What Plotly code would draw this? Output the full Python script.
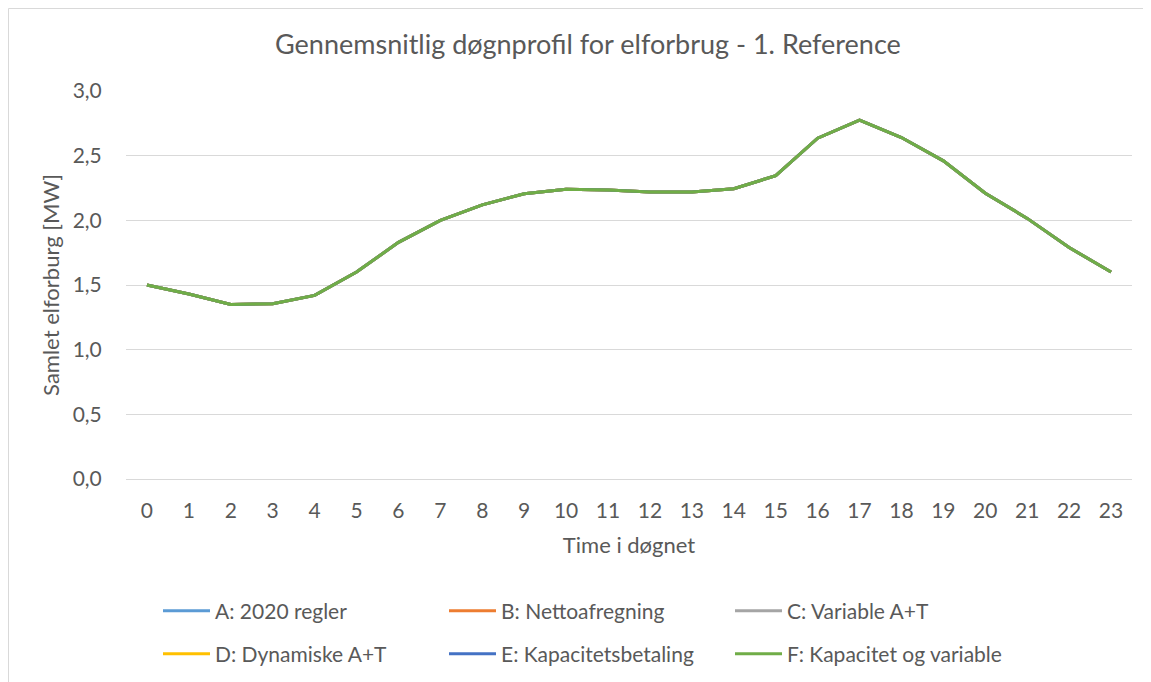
import plotly.graph_objects as go

hours = [str(h) for h in range(24)]

# all six scenarios lie on top of each other in the reference
a_2020 = [1.50, 1.43, 1.35, 1.355, 1.42, 1.60, 1.83, 2.00, 2.12, 2.205, 2.24, 2.235,
          2.22, 2.22, 2.245, 2.345, 2.635, 2.775, 2.64, 2.46, 2.21, 2.015, 1.79, 1.60]
b_netto = [1.50, 1.43, 1.35, 1.355, 1.42, 1.60, 1.83, 2.00, 2.12, 2.205, 2.24, 2.235,
           2.22, 2.22, 2.245, 2.345, 2.635, 2.775, 2.64, 2.46, 2.21, 2.015, 1.79, 1.60]
c_variable = [1.50, 1.43, 1.35, 1.355, 1.42, 1.60, 1.83, 2.00, 2.12, 2.205, 2.24, 2.235,
              2.22, 2.22, 2.245, 2.345, 2.635, 2.775, 2.64, 2.46, 2.21, 2.015, 1.79, 1.60]
d_dynamisk = [1.50, 1.43, 1.35, 1.355, 1.42, 1.60, 1.83, 2.00, 2.12, 2.205, 2.24, 2.235,
              2.22, 2.22, 2.245, 2.345, 2.635, 2.775, 2.64, 2.46, 2.21, 2.015, 1.79, 1.60]
e_kapacitet = [1.50, 1.43, 1.35, 1.355, 1.42, 1.60, 1.83, 2.00, 2.12, 2.205, 2.24, 2.235,
               2.22, 2.22, 2.245, 2.345, 2.635, 2.775, 2.64, 2.46, 2.21, 2.015, 1.79, 1.60]
f_kap_var = [1.50, 1.43, 1.35, 1.355, 1.42, 1.60, 1.83, 2.00, 2.12, 2.205, 2.24, 2.235,
             2.22, 2.22, 2.245, 2.345, 2.635, 2.775, 2.64, 2.46, 2.21, 2.015, 1.79, 1.60]

names = ["A: 2020 regler", "B: Nettoafregning", "C: Variable A+T",
         "D: Dynamiske A+T", "E: Kapacitetsbetaling", "F: Kapacitet og variable"]
series = [a_2020, b_netto, c_variable, d_dynamisk, e_kapacitet, f_kap_var]
colors = ["#5B9BD5", "#ED7D31", "#A5A5A5", "#FFC000", "#4472C4", "#70AD47"]

FONT = "Lato"
GREY = "#595959"

fig = go.Figure()
for i in range(6):
    fig.add_trace(go.Scatter(
        x=hours, y=series[i], mode="lines", name=names[i],
        line=dict(color=colors[i], width=3),
        legend="legend" if i < 3 else "legend2",
    ))

# page has an 8px body margin, so work in page pixels and shift
OFF = 8
W, H = 1151 - OFF, 682 - OFF
L, T = 126 - OFF, 91 - OFF
R = W - (1132 - OFF)
B = H - (479 - OFF)
pw, ph = W - L - R, H - T - B

def px_x(p):
    return (p - OFF - L) / pw

def px_y(p):
    return (H - B - (p - OFF)) / ph

def cy(p):
    # container fraction for a page y pixel
    return 1 - (p - OFF) / H

legend_style = dict(orientation="h", font=dict(family=FONT, size=21, color=GREY),
                    entrywidth=224, entrywidthmode="pixels", itemwidth=47,
                    xanchor="left", yanchor="middle", yref="container",
                    bgcolor="rgba(0,0,0,0)")

fig.update_layout(
    width=W, height=H,
    margin=dict(l=L, r=R, t=T, b=B, autoexpand=False),
    paper_bgcolor="white", plot_bgcolor="white",
    separators=",.",
    font=dict(family=FONT, color=GREY),
    title=dict(text="Gennemsnitlig døgnprofil for elforbrug - 1. Reference",
               x=(273 + 895) / 2 / 1151, xanchor="center",
               y=cy(45), yanchor="middle", yref="container",
               font=dict(family=FONT, size=27, color=GREY)),
    legend=dict(x=px_x(158), y=cy(611), **legend_style),
    legend2=dict(x=px_x(158), y=cy(654), **legend_style),
    shapes=[dict(type="rect", xref="paper", yref="paper",
                 x0=px_x(OFF + 0.5), x1=px_x(1151 + 20), y0=px_y(682 + 20), y1=px_y(OFF + 0.5),
                 line=dict(color="#d9d9d9", width=1), fillcolor="rgba(0,0,0,0)",
                 layer="below")],
)

fig.update_xaxes(
    type="category", range=[-0.5, 23.5],
    showline=True, linecolor="#d9d9d9", linewidth=1,
    showgrid=False, ticks="outside", ticklen=13, tickcolor="white",
    tickfont=dict(family=FONT, size=21, color=GREY),
    title=dict(text="Time i døgnet", standoff=16,
               font=dict(family=FONT, size=22, color=GREY)),
)
fig.update_yaxes(
    range=[0, 3], dtick=0.5, tickformat=".1f",
    showgrid=True, gridcolor="#d9d9d9", gridwidth=1,
    zeroline=False, showline=False,
    ticks="outside", ticklen=19, tickcolor="white",
    tickfont=dict(family=FONT, size=21, color=GREY),
    title=dict(text="Samlet elforburg [MW]", standoff=6,
               font=dict(family=FONT, size=22, color=GREY)),
)

fig.write_html("out.html")
